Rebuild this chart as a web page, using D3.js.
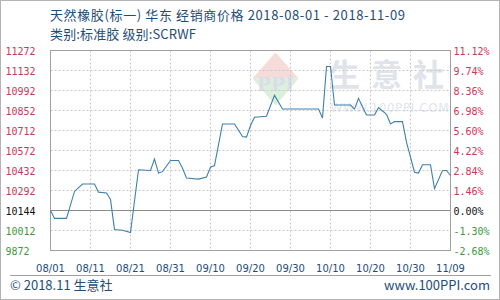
<!DOCTYPE html>
<html>
<head>
<meta charset="utf-8">
<script src="https://cdn.jsdelivr.net/npm/d3@7"></script>
<style>
  body { margin: 0; background: #fff; }
  svg { display: block; }
</style>
</head>
<body>
<div id="chart"></div>
<script>
// chart data
var dates = ["08/01","08/02","08/05","08/07","08/09","08/12","08/13","08/15","08/16","08/17",
    "08/19","08/21","08/23","08/26","08/27","08/28","08/29","08/31","09/02","09/03",
    "09/04","09/07","09/09","09/10","09/11","09/13","09/16","09/18","09/19","09/20",
    "09/21","09/24","09/26","09/28","10/07","10/08","10/09","10/10","10/11","10/15",
    "10/16","10/17","10/19","10/21","10/22","10/24","10/25","10/26","10/28","10/29",
    "10/31","11/01","11/02","11/04","11/05","11/07","11/08","11/09"];
var prices = [10144,10092,10092,10285,10337,10337,10280,10273,10225,10019,
    10014,9998,10437,10432,10512,10414,10424,10502,10502,10448,
    10379,10372,10386,10455,10467,10758,10758,10670,10666,10747,
    10805,10812,10958,10862,10862,10800,11160,11160,10890,10890,
    10862,10937,10820,10820,10872,10825,10758,10774,10774,10630,
    10420,10414,10472,10472,10305,10432,10432,10397];
var xTicks = ["08/01","08/11","08/21","08/31","09/10","09/20","09/30","10/10","10/20","10/30","11/09"];
var yTicks = [9872,10012,10144,10292,10432,10572,10712,10852,10992,11132,11272];
var basePrice = 10144;
var year = "2018";

var titleText = "天然橡胶(标一) 华东 经销商价格 2018-08-01 - 2018-11-09";
var subText = "类别:标准胶 级别:SCRWF";

var W = 500, H = 300;
var margin = {top: 50, right: 50, bottom: 50, left: 50},
    width = W - margin.left - margin.right,
    height = H - margin.top - margin.bottom;

var parseDate = d3.timeParse("%Y/%m/%d");

var data = dates.map(function(d, i) {
    return {date: parseDate(year + "/" + d), value: prices[i]};
});

var svg = d3.select("#chart")
    .append("svg")
    .attr("width", W)
    .attr("height", H);

// outer frame
svg.append("rect")
    .attr("x", 0.5).attr("y", 0.5)
    .attr("width", W - 1).attr("height", H - 1)
    .attr("fill", "#fff")
    .attr("stroke", "#b4b4b4");

var g = svg.append("g")
    .attr("transform", "translate(" + (margin.left + 0.5) + "," + (margin.top + 0.5) + ")");

// scales
var x = d3.scaleTime()
    .domain([parseDate(year + "/" + xTicks[0]), parseDate(year + "/" + xTicks[xTicks.length - 1])])
    .range([0, width]);

// tick labels are evenly spaced, so map each tick to its own row
var y = d3.scaleLinear()
    .domain(yTicks)
    .range(yTicks.map(function(d, i) { return height - i * height / (yTicks.length - 1); }));

// watermark
var wm = g.append("g").attr("opacity", 0.9);
wm.append("path")
    .attr("d", "M225,2 L248,28 L202,28 Z")
    .attr("fill", "#f6d9d4");
wm.append("path")
    .attr("d", "M202,28 L248,28 L225,55 Z")
    .attr("fill", "#d9eed8");
wm.append("text")
    .attr("x", 225).attr("y", 40)
    .attr("text-anchor", "middle")
    .style("font-family", "'DejaVu Serif', serif")
    .style("font-weight", "bold")
    .style("font-size", "19px")
    .style("fill", "#d3dbe8")
    .text("PPI");
wm.selectAll(".wmchar")
    .data(["生", "意", "社"])
    .enter().append("text")
    .attr("x", function(d, i) { return 294 + i * 42; })
    .attr("y", 35)
    .attr("text-anchor", "middle")
    .style("font-family", "'Noto Sans CJK SC', sans-serif")
    .style("font-weight", "bold")
    .style("font-size", "31px")
    .style("fill", "#dde1e8")
    .text(function(d) { return d; });
wm.append("text")
    .attr("x", 280).attr("y", 61)
    .attr("textLength", 118)
    .style("font-family", "'DejaVu Sans', sans-serif")
    .style("font-size", "12px")
    .style("fill", "#e0e4ea")
    .text("WWW.100PPI.COM");

// grid
g.selectAll(".hgrid")
    .data(yTicks.filter(function(d) { return d !== basePrice; }))
    .enter().append("line")
    .attr("x1", 0).attr("x2", width)
    .attr("y1", function(d) { return Math.round(y(d)); })
    .attr("y2", function(d) { return Math.round(y(d)); })
    .attr("stroke", "#c8c8c8")
    .attr("stroke-dasharray", "2,2");

g.selectAll(".vgrid")
    .data(xTicks)
    .enter().append("line")
    .attr("x1", function(d) { return Math.round(x(parseDate(year + "/" + d))); })
    .attr("x2", function(d) { return Math.round(x(parseDate(year + "/" + d))); })
    .attr("y1", 0).attr("y2", height)
    .attr("stroke", "#c8c8c8")
    .attr("stroke-dasharray", "2,2");

// base line
g.append("line")
    .attr("x1", 0).attr("x2", width)
    .attr("y1", Math.round(y(basePrice))).attr("y2", Math.round(y(basePrice)))
    .attr("stroke", "#8c8c8c");

// border
g.append("rect")
    .attr("width", width).attr("height", height)
    .attr("fill", "none")
    .attr("stroke", "#a0a0a0");

// price line
var valueline = d3.line()
    .x(function(d) { return x(d.date); })
    .y(function(d) { return y(d.value); });

g.append("path")
    .datum(data)
    .attr("fill", "none")
    .attr("stroke", "#3f80ab")
    .attr("stroke-width", 1.1)
    .attr("d", valueline);

function tickColor(d) {
    if (d > basePrice) return "#c8385a";
    if (d < basePrice) return "#3c9a3c";
    return "#111";
}

// left axis labels
g.selectAll(".ylab")
    .data(yTicks)
    .enter().append("text")
    .attr("x", -45)
    .attr("y", function(d) { return y(d) + 4; })
    .style("font-family", "'DejaVu Sans Mono', monospace")
    .style("font-size", "10px")
    .style("fill", tickColor)
    .text(function(d) { return d; });

// right axis labels
g.selectAll(".pctlab")
    .data(yTicks)
    .enter().append("text")
    .attr("x", width + 3)
    .attr("y", function(d) { return y(d) + 4; })
    .style("font-family", "'DejaVu Sans Mono', monospace")
    .style("font-size", "10px")
    .style("fill", tickColor)
    .text(function(d) { return ((d - basePrice) / basePrice * 100).toFixed(2) + "%"; });

// x labels
g.selectAll(".xlab")
    .data(xTicks)
    .enter().append("text")
    .attr("x", function(d) { return x(parseDate(year + "/" + d)); })
    .attr("y", height + 21)
    .attr("text-anchor", "middle")
    .style("font-family", "'DejaVu Sans', sans-serif")
    .style("font-size", "10px")
    .style("fill", "#1e4d78")
    .text(function(d) { return d; });

// titles
svg.append("text")
    .attr("x", 50).attr("y", 20)
    .attr("textLength", 355)
    .attr("lengthAdjust", "spacing")
    .style("font-family", "'Noto Sans CJK SC', sans-serif")
    .style("font-size", "13px")
    .style("fill", "#1e4d78")
    .text(titleText);
svg.append("text")
    .attr("x", 50).attr("y", 39)
    .attr("textLength", 146)
    .attr("lengthAdjust", "spacing")
    .style("font-family", "'Noto Sans CJK SC', sans-serif")
    .style("font-size", "13px")
    .style("fill", "#1e4d78")
    .text(subText);

// footer
svg.append("line")
    .attr("x1", 10).attr("x2", 491)
    .attr("y1", 275.5).attr("y2", 275.5)
    .attr("stroke", "#a0a0a0");
svg.append("text")
    .attr("x", 10).attr("y", 290)
    .style("font-family", "'Noto Sans CJK SC', sans-serif")
    .style("font-size", "13px")
    .style("fill", "#1e4d78")
    .text("© 2018.11 生意社");
svg.append("text")
    .attr("x", 490).attr("y", 290)
    .attr("text-anchor", "end")
    .style("font-family", "'Noto Sans CJK SC', sans-serif")
    .style("font-size", "13px")
    .style("fill", "#1e4d78")
    .text("www.100PPI.com");
</script>
</body>
</html>
